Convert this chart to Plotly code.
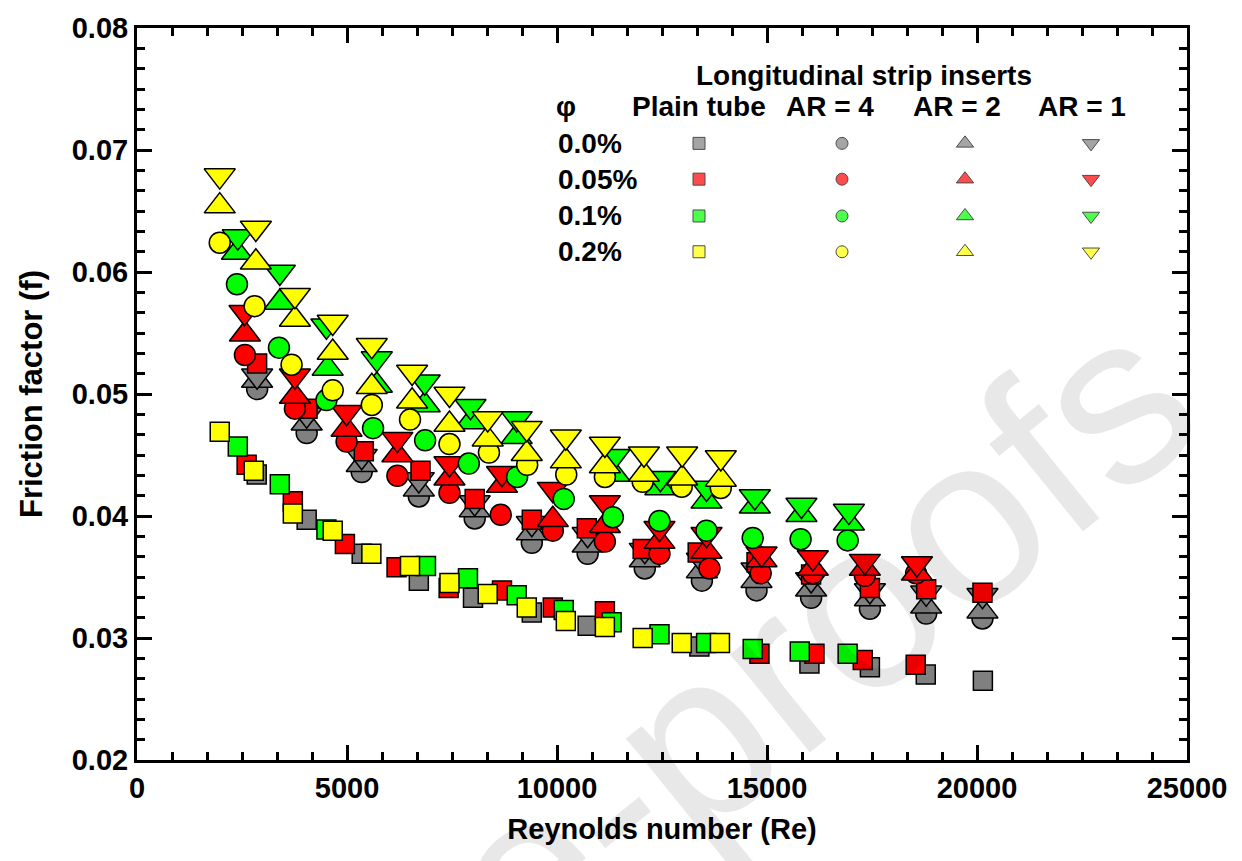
import plotly.graph_objects as go

# ---------------- data ----------------
# Plain tube (squares)
re_pt_00 = [2850, 4040, 5350, 6710, 8000, 9400, 10730, 13390, 16010, 17450, 18780, 20140]
f_pt_00 = [0.0434, 0.0397, 0.0369, 0.0347, 0.0333, 0.0321, 0.0310, 0.0293, 0.0279, 0.0276, 0.0270, 0.0265]
re_pt_05 = [2610, 3710, 4950, 6180, 7420, 8690, 9900, 11140, 14820, 16130, 17280, 18540]
f_pt_05 = [0.0442, 0.0412, 0.0377, 0.0358, 0.0341, 0.0339, 0.0325, 0.0322, 0.0287, 0.0287, 0.0282, 0.0278]
re_pt_10 = [2400, 3400, 4510, 6880, 7880, 9040, 10160, 11300, 12440, 13550, 14660, 15780, 16920]
f_pt_10 = [0.0457, 0.0426, 0.0389, 0.0359, 0.0349, 0.0335, 0.0323, 0.0313, 0.0303, 0.0296, 0.0291, 0.0289, 0.0287]
re_pt_20 = [1970, 2780, 3710, 4660, 5580, 6500, 7440, 8350, 9280, 10210, 11140, 12040, 12970, 13880]
f_pt_20 = [0.0469, 0.0437, 0.0402, 0.0388, 0.0369, 0.0359, 0.0345, 0.0336, 0.0325, 0.0314, 0.0309, 0.0300, 0.0296, 0.0296]

# red squares plotted among the insert data
re_sq_05u = [2860, 4060, 5400, 6750, 8040, 9400, 10710, 12040, 13350, 14750, 16050, 17450, 18790, 20130]
f_sq_05u = [0.0525, 0.0488, 0.0453, 0.0437, 0.0414, 0.0397, 0.0390, 0.0373, 0.0370, 0.0362, 0.0352, 0.0341, 0.0340, 0.0337]

# AR = 4 (circles)
re_a4_00 = [2860, 4040, 5350, 6710, 8040, 9400, 10730, 12090, 13450, 14750, 16050, 17450, 18790, 20130]
f_a4_00 = [0.0504, 0.0468, 0.0436, 0.0416, 0.0398, 0.0378, 0.0369, 0.0357, 0.0347, 0.0339, 0.0333, 0.0324, 0.0320, 0.0316]
re_a4_05 = [2570, 3760, 4990, 6200, 7440, 8660, 9900, 11140, 12440, 13630, 14850, 16090, 17330, 18550]
f_a4_05 = [0.0532, 0.0488, 0.0461, 0.0433, 0.0419, 0.0401, 0.0388, 0.0379, 0.0369, 0.0357, 0.0353, 0.0353, 0.0351, 0.0353]
re_a4_10 = [2380, 3380, 4510, 5620, 6860, 7900, 9050, 10160, 11330, 12440, 13560, 14660, 15800, 16920]
f_a4_10 = [0.0590, 0.0538, 0.0495, 0.0472, 0.0462, 0.0443, 0.0432, 0.0414, 0.0399, 0.0396, 0.0388, 0.0382, 0.0381, 0.0380]
re_a4_20 = [1970, 2800, 3680, 4660, 5590, 6500, 7440, 8380, 9290, 10220, 11140, 12040, 12970, 13900]
f_a4_20 = [0.0624, 0.0572, 0.0524, 0.0503, 0.0491, 0.0479, 0.0459, 0.0452, 0.0442, 0.0434, 0.0432, 0.0428, 0.0424, 0.0423]

# AR = 2 (up triangles)
re_a2_00 = [2860, 4040, 5350, 6710, 8040, 9400, 10730, 12090, 13450, 14750, 16050, 17450, 18790, 20130]
f_a2_00 = [0.0511, 0.0476, 0.0442, 0.0422, 0.0405, 0.0386, 0.0376, 0.0364, 0.0355, 0.0347, 0.0340, 0.0332, 0.0326, 0.0322]
re_a2_05 = [2570, 3760, 4990, 6200, 7440, 8690, 9900, 11140, 12440, 13560, 14870, 16090, 17330, 18570]
f_a2_05 = [0.0549, 0.0498, 0.0471, 0.0450, 0.0431, 0.0425, 0.0397, 0.0392, 0.0379, 0.0371, 0.0364, 0.0357, 0.0357, 0.0353]
re_a2_10 = [2380, 3400, 4540, 5710, 6850, 7940, 9040, 11370, 12460, 13560, 14710, 15820, 16950]
f_a2_10 = [0.0616, 0.0575, 0.0521, 0.0507, 0.0491, 0.0477, 0.0465, 0.0434, 0.0423, 0.0412, 0.0408, 0.0401, 0.0394]
re_a2_20 = [1970, 2830, 3760, 4660, 5590, 6550, 7440, 8350, 9280, 10210, 11140, 12070, 12980, 13900]
f_a2_20 = [0.0654, 0.0608, 0.0561, 0.0534, 0.0506, 0.0494, 0.0475, 0.0463, 0.0451, 0.0445, 0.0441, 0.0434, 0.0431, 0.0430]

# AR = 1 (down triangles)
re_a1_00 = [2860, 4040, 5350, 6710, 8040, 9400, 10730, 12090, 13450, 14750, 16050, 17450, 18790, 20130]
f_a1_00 = [0.0515, 0.0483, 0.0449, 0.0430, 0.0411, 0.0394, 0.0385, 0.0372, 0.0364, 0.0356, 0.0348, 0.0339, 0.0337, 0.0335]
re_a1_05 = [2560, 3760, 4990, 6200, 7440, 8690, 9900, 11140, 12440, 13560, 14870, 16090, 17330, 18570]
f_a1_05 = [0.0567, 0.0515, 0.0485, 0.0463, 0.0443, 0.0435, 0.0422, 0.0411, 0.0390, 0.0385, 0.0369, 0.0366, 0.0363, 0.0361]
re_a1_10 = [2400, 3400, 4510, 5710, 6850, 7940, 9040, 11370, 12460, 13560, 14710, 15820, 16950]
f_a1_10 = [0.0629, 0.0600, 0.0556, 0.0529, 0.0510, 0.0490, 0.0480, 0.0449, 0.0431, 0.0423, 0.0416, 0.0409, 0.0404]
re_a1_20 = [1970, 2830, 3760, 4660, 5590, 6550, 7440, 8350, 9280, 10210, 11140, 12070, 12980, 13900]
f_a1_20 = [0.0679, 0.0636, 0.0581, 0.0559, 0.0540, 0.0518, 0.0500, 0.0480, 0.0472, 0.0465, 0.0459, 0.0451, 0.0451, 0.0448]

# legend content
legend_title = "Longitudinal strip inserts"
legend_cols = ["Plain tube", "AR = 4", "AR = 2", "AR = 1"]
legend_rows = ["0.0%", "0.05%", "0.1%", "0.2%"]
x_ticks = [0, 5000, 10000, 15000, 20000, 25000]
y_ticks = [0.02, 0.03, 0.04, 0.05, 0.06, 0.07, 0.08]

# ---------------- styling ----------------
GRAY, RED, GREEN, YELLOW = "#808080", "#ff0000", "#00ff00", "#ffff00"
colors = [GRAY, RED, GREEN, YELLOW]
SYM = {"sq": "square", "ci": "circle", "tu": "triangle-up", "td": "triangle-down"}
SIZE = {"sq": 19, "ci": 21, "tu": 27, "td": 27}
FONT = "Liberation Sans, Arial, sans-serif"

W, H = 1242, 861
PL, PR, PT, PB = 137, 1187, 24, 760  # plot area in pixels


def px(x):
    return (x - PL) / (PR - PL)


def py(y):
    return (PB - y) / (PB - PT)


fig = go.Figure()


def add(re, f, kind, color):
    fig.add_trace(go.Scatter(
        x=re, y=f, mode="markers", showlegend=False, hoverinfo="x+y",
        marker=dict(symbol=SYM[kind], size=SIZE[kind], color=color,
                    line=dict(color="black", width=1.5)),
    ))


# draw order: gray, red, green, yellow; squares, circles, up, down
add(re_pt_00, f_pt_00, "sq", GRAY)
add(re_a4_00, f_a4_00, "ci", GRAY)
add(re_a2_00, f_a2_00, "tu", GRAY)
add(re_a1_00, f_a1_00, "td", GRAY)

add(re_pt_05, f_pt_05, "sq", RED)
add(re_sq_05u, f_sq_05u, "sq", RED)
add(re_a4_05, f_a4_05, "ci", RED)
add(re_a2_05, f_a2_05, "tu", RED)
add(re_a1_05, f_a1_05, "td", RED)

add(re_pt_10, f_pt_10, "sq", GREEN)
add(re_a4_10, f_a4_10, "ci", GREEN)
add(re_a2_10, f_a2_10, "tu", GREEN)
add(re_a1_10, f_a1_10, "td", GREEN)

add(re_pt_20, f_pt_20, "sq", YELLOW)
add(re_a4_20, f_a4_20, "ci", YELLOW)
add(re_a2_20, f_a2_20, "tu", YELLOW)
add(re_a1_20, f_a1_20, "td", YELLOW)

# ---------------- legend table ----------------
col_text_x = [699, 830, 957, 1082]
col_mark_x = [699, 842, 965, 1091]
row_y = [140, 176, 213, 249]
header_y = 103
title_y = 72
row_label_x = 556
kinds = ["sq", "ci", "tu", "td"]
leg_size = {"sq": 12, "ci": 12, "tu": 15, "td": 15}

lx, ly, ls, lc, lsz = [], [], [], [], []
for r, color in enumerate(colors):
    for c, k in enumerate(kinds):
        lx.append(px(col_mark_x[c]))
        ly.append(py(row_y[r]))
        ls.append(SYM[k])
        lc.append(color)
        lsz.append(leg_size[k])
fig.add_trace(go.Scatter(
    x=lx, y=ly, xaxis="x2", yaxis="y2", mode="markers", showlegend=False,
    hoverinfo="skip",
    marker=dict(symbol=ls, color=lc, size=lsz, line=dict(color="black", width=1)),
))

ann = []
lf = dict(family=FONT, size=28, color="black", weight="bold")
ann.append(dict(text=legend_title, x=px(864), y=py(title_y), xref="paper", yref="paper",
                showarrow=False, font=lf, xanchor="center", yanchor="middle"))
ann.append(dict(text="φ", x=px(566), y=py(header_y), xref="paper", yref="paper",
                showarrow=False, font=lf, xanchor="center", yanchor="middle"))
for c, t in enumerate(legend_cols):
    ann.append(dict(text=t, x=px(col_text_x[c]), y=py(header_y), xref="paper", yref="paper",
                    showarrow=False, font=lf, xanchor="center", yanchor="middle"))
for r, t in enumerate(legend_rows):
    ann.append(dict(text=t, x=px(row_label_x), y=py(row_y[r]), xref="paper", yref="paper",
                    showarrow=False, font=lf, xanchor="left", yanchor="middle"))

# watermark (light, diagonal)
ann.append(dict(text="Journal Pre-proofs", x=px(392), y=py(985), xref="paper", yref="paper",
                showarrow=False, textangle=-39,
                font=dict(family=FONT, size=240, color="rgba(0,0,0,0.09)"),
                xanchor="center", yanchor="middle"))

axis_common = dict(
    showline=True, linewidth=3, linecolor="black", mirror="ticks",
    ticks="inside", ticklen=15, tickwidth=2.5, tickcolor="black",
    showgrid=False, zeroline=False,
    tickfont=dict(family=FONT, size=29, color="black", weight="bold"),
)

fig.update_layout(
    width=W, height=H,
    margin=dict(l=PL, r=W - PR, t=PT, b=H - PB),
    paper_bgcolor="white", plot_bgcolor="rgba(0,0,0,0)",
    xaxis=dict(
        range=[0, 25000], tickvals=x_ticks, ticktext=[str(v) for v in x_ticks],
        minor=dict(dtick=5000 / 6, ticklen=8, tickwidth=2.5, ticks="inside", tickcolor="black"),
        title=dict(text="Reynolds number (Re)", standoff=16,
                   font=dict(family=FONT, size=29, color="black", weight="bold")),
        **axis_common,
    ),
    yaxis=dict(
        range=[0.02, 0.08], tickvals=y_ticks, ticktext=[f"{v:.2f}" for v in y_ticks],
        minor=dict(dtick=0.01 / 6, ticklen=8, tickwidth=2.5, ticks="inside", tickcolor="black"),
        title=dict(text="Friction factor (f)", standoff=20,
                   font=dict(family=FONT, size=31, color="black", weight="bold")),
        **axis_common,
    ),
    xaxis2=dict(overlaying="x", range=[0, 1], visible=False),
    yaxis2=dict(overlaying="y", range=[0, 1], visible=False),
    annotations=ann,
)

fig.write_html("out.html")
